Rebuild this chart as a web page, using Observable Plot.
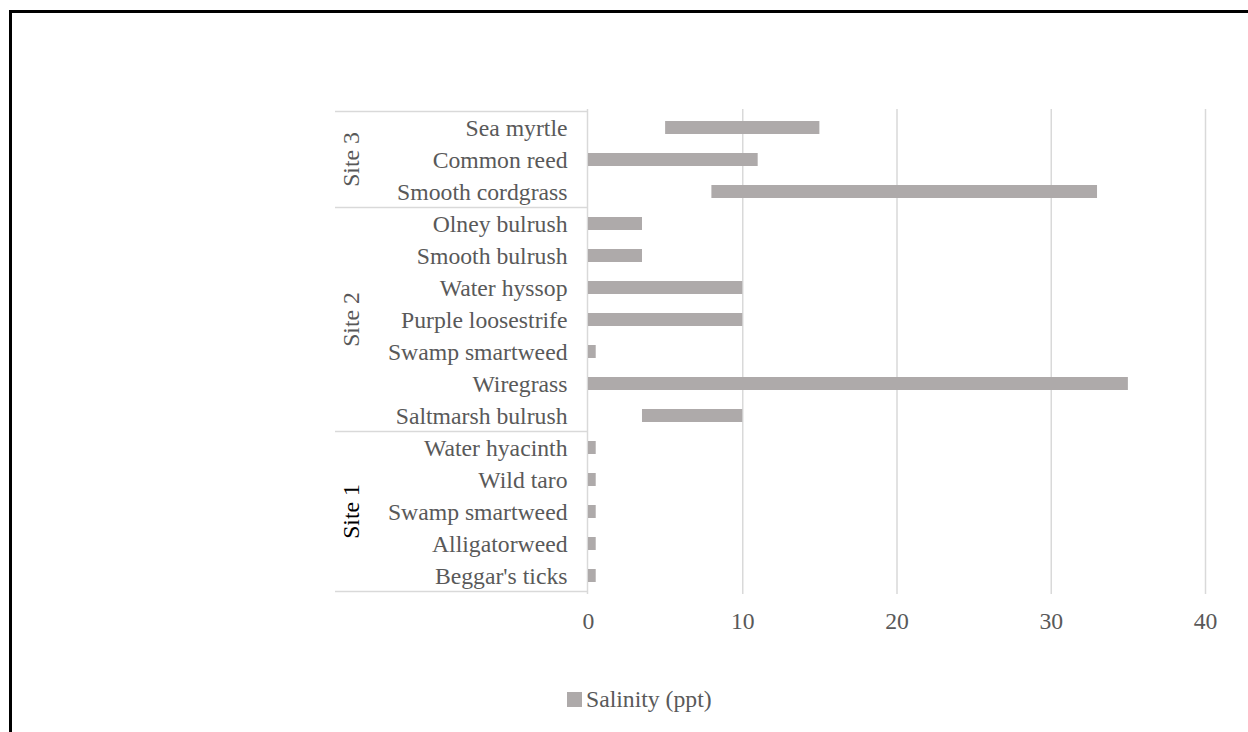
<!DOCTYPE html>
<html>
<head>
<meta charset="utf-8">
<script src="https://cdn.jsdelivr.net/npm/d3@7"></script>
<script src="https://cdn.jsdelivr.net/npm/@observablehq/plot@0.6"></script>
<style>
  html, body { margin: 0; padding: 0; background: #fff; overflow: hidden; }
  #wrap { position: relative; width: 1248px; height: 732px; overflow: hidden;
          font-family: "Liberation Serif", "Times New Roman", serif; }
  #frame { position: absolute; left: 9px; top: 10px; width: 1300px; height: 800px;
           border: 3px solid #000; box-sizing: border-box; }
  #chart { position: absolute; left: 0; top: 0; }
  #legend { position: absolute; left: 567px; top: 686px; display: flex; align-items: center;
            font-size: 23.7px; color: #595959; }
  #legend .swatch { width: 15px; height: 15px; background: #AEAAAA; margin-right: 4px; }
</style>
</head>
<body>
<div id="wrap">
  <div id="frame"></div>
  <div id="chart"></div>
  <div id="legend"><span class="swatch"></span><span>Salinity (ppt)</span></div>
</div>
<script>
// Salinity ranges tolerated by each plant species, grouped by site (top to bottom)
const species = [
  "Sea myrtle", "Common reed", "Smooth cordgrass",
  "Olney bulrush", "Smooth bulrush", "Water hyssop", "Purple loosestrife",
  "Swamp smartweed", "Wiregrass", "Saltmarsh bulrush",
  "Water hyacinth", "Wild taro", "Swamp smartweed", "Alligatorweed", "Beggar's ticks"
];
const siteOf = [
  "Site 3", "Site 3", "Site 3",
  "Site 2", "Site 2", "Site 2", "Site 2", "Site 2", "Site 2", "Site 2",
  "Site 1", "Site 1", "Site 1", "Site 1", "Site 1"
];
const salinityLow  = [5, 0, 8, 0, 0, 0, 0, 0, 0, 3.5, 0, 0, 0, 0, 0];
const salinityHigh = [15, 11, 33, 3.5, 3.5, 10, 10, 0.5, 35, 10, 0.5, 0.5, 0.5, 0.5, 0.5];
const xTicks = [0, 10, 20, 30, 40];

const rows = species.map((s, i) => ({
  key: siteOf[i] + " | " + s,
  site: siteOf[i],
  species: s,
  low: salinityLow[i],
  high: salinityHigh[i]
}));

const FONT = 23.7;
const GRID = "#d9d9d9";
const TEXT = "#595959";

const chart = Plot.plot({
  width: 1248,
  height: 732,
  marginLeft: 588,
  marginRight: 43,
  marginTop: 109,
  marginBottom: 138,
  style: { fontFamily: "Liberation Serif, Times New Roman, serif", fontSize: FONT + "px",
           background: "transparent", overflow: "visible" },
  x: { domain: [0, 40], label: null },
  y: { domain: rows.map(d => d.key), paddingInner: 0.6, paddingOuter: 0.3, axis: null, label: null },
  marks: [
    Plot.gridX(xTicks.filter(t => t > 0), { stroke: GRID, strokeOpacity: 1, strokeWidth: 1.5 }),
    Plot.ruleX([0], { stroke: GRID, strokeWidth: 1.5, dx: -1 }),
    Plot.barX(rows, { x1: "low", x2: "high", y: "key", fill: "#AEAAAA" }),
    Plot.text(rows, { y: "key", text: "species", frameAnchor: "left", textAnchor: "end",
                      dx: -21, fill: TEXT, fontSize: FONT }),
    Plot.axisX(xTicks, { tickSize: 0, tickPadding: 18, fill: TEXT, fontSize: FONT, label: null })
  ]
});

// Site grouping table to the left of the category labels
const ys = chart.scale("y");
const xs = chart.scale("x");
const half = (ys.step - ys.bandwidth) / 2;
const rowTop = k => ys.apply(k) - half;
const rowBottom = k => ys.apply(k) + ys.bandwidth + half;
const tableLeft = 335;
const tableRight = xs.apply(0) - 1;

const svg = d3.select(chart);
const g = svg.append("g");
const groups = d3.groups(rows, d => d.site);

groups.forEach(([site, items], i) => {
  const top = rowTop(items[0].key);
  const bottom = rowBottom(items[items.length - 1].key);
  g.append("line")
    .attr("x1", tableLeft).attr("x2", tableRight)
    .attr("y1", top).attr("y2", top)
    .attr("stroke", GRID).attr("stroke-width", 1.5);
  if (i === groups.length - 1) {
    g.append("line")
      .attr("x1", tableLeft).attr("x2", tableRight)
      .attr("y1", bottom).attr("y2", bottom)
      .attr("stroke", GRID).attr("stroke-width", 1.5);
  }
  const mid = (top + bottom) / 2;
  g.append("text")
    .attr("transform", `translate(351,${mid}) rotate(-90)`)
    .attr("text-anchor", "middle")
    .attr("dy", "0.35em")
    .attr("fill", site === "Site 1" ? "#000" : TEXT)
    .attr("font-size", FONT)
    .text(site);
});

document.getElementById("chart").appendChild(chart);
</script>
</body>
</html>
